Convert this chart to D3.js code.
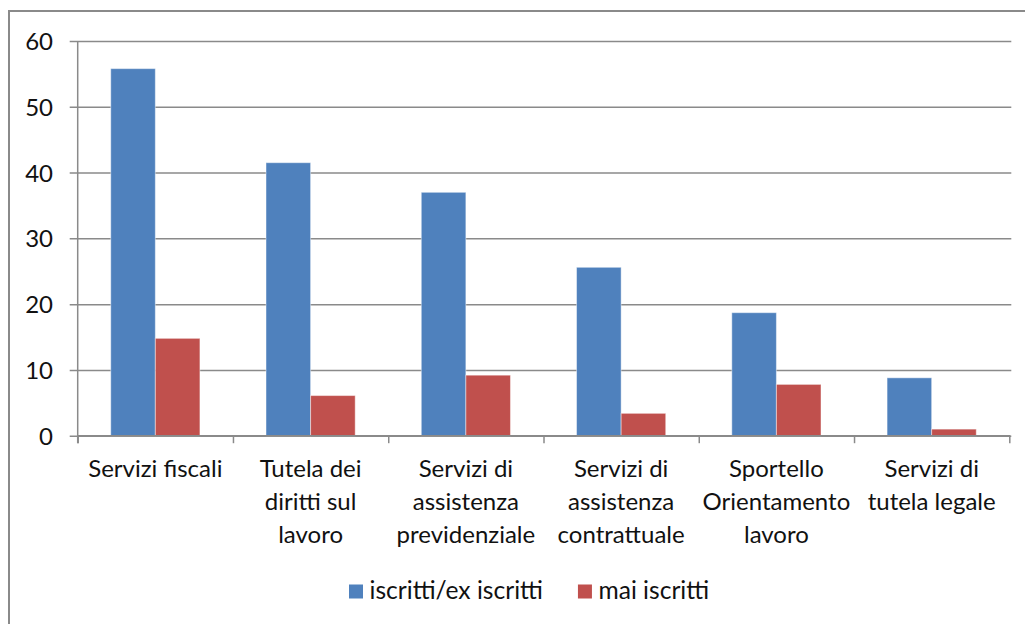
<!DOCTYPE html>
<html><head><meta charset="utf-8">
<script src="https://cdn.jsdelivr.net/npm/d3@7"></script>
<style>body{margin:0;background:#fff} text{font-family:Lato,'Noto Sans',sans-serif;fill:#111}</style>
</head><body>
<svg id="c" width="1025" height="624"></svg>
<script>
// ---- data ----
const categories = [
  ["Servizi fiscali"],
  ["Tutela dei","diritti sul","lavoro"],
  ["Servizi di","assistenza","previdenziale"],
  ["Servizi di","assistenza","contrattuale"],
  ["Sportello","Orientamento","lavoro"],
  ["Servizi di","tutela legale"]
];
const seriesNames = ["iscritti/ex iscritti","mai iscritti"];
const iscritti = [55.8, 41.5, 37.0, 25.6, 18.7, 8.8];
const maiIscritti = [14.8, 6.1, 9.2, 3.4, 7.8, 1.0];
const yTicks = [0,10,20,30,40,50,60];
const colors = ["#4F81BD","#C0504D"];

(function(){
// ---- layout ----
const W=1025,H=624;
const pL=77.7,pR=1009.3,pT=41,pB=435.7;
const svg=d3.select("#c");

// chart border (left & top visible)
svg.append("path").attr("d",`M9,${H} L9,11 L${W},11`).attr("fill","none").attr("stroke","#8a8a8a").attr("stroke-width",2);

const catIdx=d3.range(categories.length);
const x=d3.scaleBand().domain(catIdx).range([pL,pR]).paddingInner(0).paddingOuter(0);
const xs=d3.scaleBand().domain([0,1]).range([0,x.bandwidth()]).paddingInner(0).paddingOuter(0.741);
const y=d3.scaleLinear().domain([0,60]).range([pB,pT]);

// gridlines + y axis
const yAxis=d3.axisLeft(y).tickValues(yTicks).tickSize(-(pR-pL+2)).tickPadding(0).tickFormat(d3.format("d"));
const gy=svg.append("g").attr("transform",`translate(${pL},0)`).call(yAxis);
gy.select(".domain").remove();
gy.selectAll(".tick line").attr("x1",-8).attr("stroke","#8a8a8a").attr("stroke-width",1.5);
gy.selectAll(".tick text").attr("x",-24.7).attr("dy","0.36em").style("font-size","24px").style("font-family","Lato").attr("fill","#111");

// bars
const series=[iscritti,maiIscritti];
series.forEach((vals,s)=>{
  svg.append("g").selectAll("rect").data(vals).join("rect")
    .attr("x",(d,i)=>x(i)+xs(s))
    .attr("width",xs.bandwidth())
    .attr("y",d=>y(d))
    .attr("height",d=>y(0)-y(d))
    .attr("fill",colors[s])
    .attr("stroke","rgba(255,255,255,0.45)").attr("stroke-width",1);
});

// y axis line
svg.append("line").attr("x1",pL).attr("x2",pL).attr("y1",pT).attr("y2",pB+7.5).attr("stroke","#8a8a8a").attr("stroke-width",1.5);
// x axis
const xAxis=d3.axisBottom(d3.scaleLinear().domain([0,categories.length]).range([pL,pR]))
  .tickValues(d3.range(categories.length+1)).tickSize(7.5).tickFormat("");
const gx=svg.append("g").attr("transform",`translate(0,${pB})`).call(xAxis);
gx.select(".domain").attr("stroke","#8a8a8a").attr("stroke-width",1.5).attr("d",`M${pL},0H${pR+1}`);
gx.selectAll(".tick line").attr("stroke","#8a8a8a").attr("stroke-width",1.5);

// category labels
const lab=svg.append("g").selectAll("text").data(categories).join("text")
  .attr("text-anchor","middle").style("font-size","24px")
  .attr("transform",(d,i)=>`translate(${x(i)+x.bandwidth()/2},477)`);
lab.selectAll("tspan").data(d=>d).join("tspan").attr("x",0).attr("y",(d,j)=>j*32.8).text(d=>d);

// legend
const lg=svg.append("g");
let lx=349;
seriesNames.forEach((n,s)=>{
  lg.append("rect").attr("x",lx).attr("y",584.5).attr("width",14).attr("height",14).attr("fill",colors[s]);
  const t=lg.append("text").attr("x",lx+20.5).attr("y",599).style("font-size","24.6px").text(n);
  lx=lx+20.5+t.node().getComputedTextLength()+35;
});
})();
</script>
</body></html>
